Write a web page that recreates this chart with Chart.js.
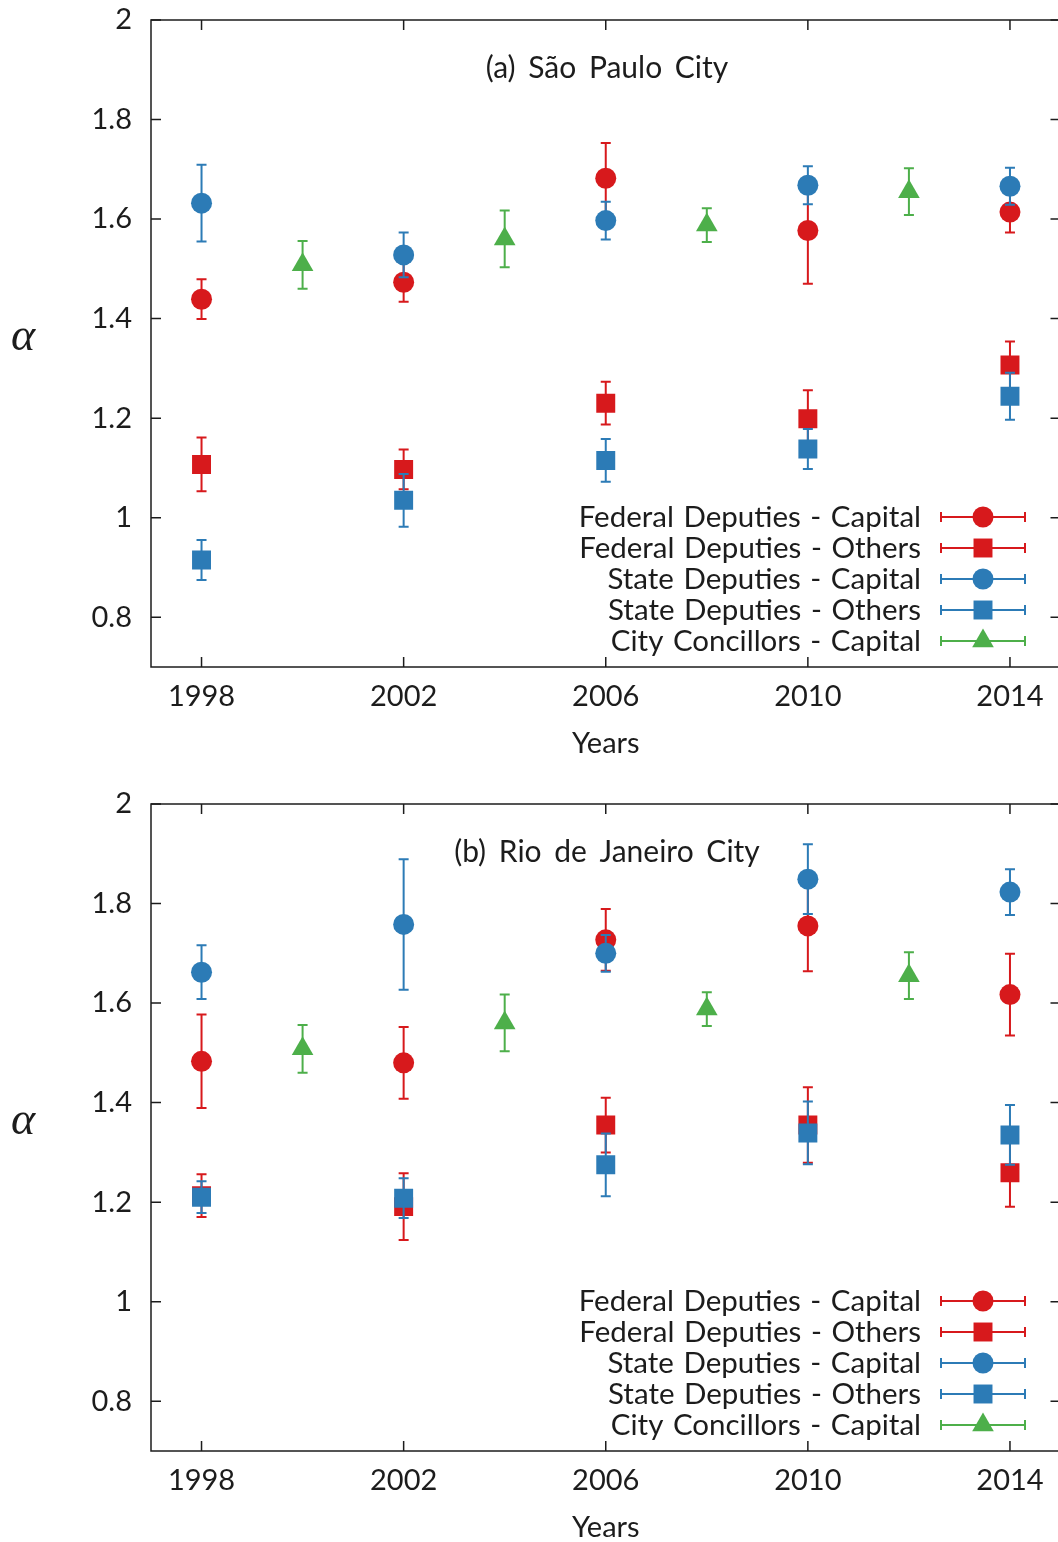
<!DOCTYPE html>
<html>
<head>
<meta charset="utf-8">
<script src="https://cdn.jsdelivr.net/npm/chart.js@4.4.0/dist/chart.umd.min.js"></script>
<style>
html, body { margin: 0; padding: 0; background: #fff; overflow: hidden; }
.panel { position: absolute; left: 0; width: 1070px; height: 784px; }
#pa { top: 0; }
#pb { top: 784px; }
</style>
</head>
<body>
<div class="panel" id="pa"><canvas id="chartA"></canvas></div>
<div class="panel" id="pb"><canvas id="chartB"></canvas></div>
<script>
// years on the x axis
const electionYears = [1998, 2002, 2006, 2010, 2014];
const cityYears = [2000, 2004, 2008, 2012];
const xTicks = [1998, 2002, 2006, 2010, 2014];
const yTicks = [0.8, 1, 1.2, 1.4, 1.6, 1.8, 2];

const seriesNames = [
    "Federal Deputies - Capital",
    "Federal Deputies - Others",
    "State Deputies - Capital",
    "State Deputies - Others",
    "City Concillors - Capital"
];

// (a) Sao Paulo
const spFedCapital = [1.439, 1.473, 1.682, 1.577, 1.614];
const spFedCapitalErr = [0.040, 0.039, 0.071, 0.107, 0.041];
const spFedOthers = [1.107, 1.097, 1.230, 1.199, 1.307];
const spFedOthersErr = [0.054, 0.040, 0.043, 0.057, 0.047];
const spStateCapital = [1.632, 1.528, 1.597, 1.668, 1.666];
const spStateCapitalErr = [0.077, 0.045, 0.038, 0.038, 0.037];
const spStateOthers = [0.915, 1.035, 1.115, 1.138, 1.244];
const spStateOthersErr = [0.040, 0.053, 0.043, 0.040, 0.047];
const spCity = [1.508, 1.560, 1.588, 1.655];
const spCityErr = [0.048, 0.057, 0.034, 0.047];

// (b) Rio de Janeiro
const rjFedCapital = [1.483, 1.480, 1.727, 1.755, 1.617];
const rjFedCapitalErr = [0.094, 0.072, 0.062, 0.091, 0.082];
const rjFedOthers = [1.213, 1.191, 1.355, 1.355, 1.259];
const rjFedOthersErr = [0.043, 0.067, 0.055, 0.076, 0.068];
const rjStateCapital = [1.662, 1.758, 1.700, 1.849, 1.823];
const rjStateCapitalErr = [0.054, 0.131, 0.037, 0.070, 0.046];
const rjStateOthers = [1.210, 1.208, 1.275, 1.339, 1.335];
const rjStateOthersErr = [0.032, 0.040, 0.063, 0.063, 0.060];
const rjCity = [1.508, 1.560, 1.588, 1.655];
const rjCityErr = [0.048, 0.057, 0.034, 0.047];

const red = "#d7191c";
const blue = "#2c7bb6";
const green = "#4daf4a";
const ink = "#1c1c1c";
const textFont = "Lato";

function points(xs, ys) {
    return xs.map((x, i) => ({ x: x, y: ys[i] }));
}

function drawMarker(ctx, style, x, y, r) {
    ctx.beginPath();
    if (style === "circle") {
        ctx.arc(x, y, r, 0, Math.PI * 2);
    } else if (style === "rect") {
        var s = r * Math.SQRT1_2;
        ctx.rect(x - s, y - s, 2 * s, 2 * s);
    } else {
        ctx.moveTo(x, y - r);
        ctx.lineTo(x + r * 0.866, y + r * 0.5);
        ctx.lineTo(x - r * 0.866, y + r * 0.5);
        ctx.closePath();
    }
    ctx.fill();
}

// vertical error bars, drawn right before each dataset's own markers
const errorBars = {
    id: "errorBars",
    beforeDatasetDraw(chart, args) {
        const ds = chart.data.datasets[args.index];
        const xs = chart.scales.x, ys = chart.scales.y;
        const ctx = chart.ctx;
        ctx.save();
        ctx.strokeStyle = ds.borderColor;
        ctx.lineWidth = 2;
        ds.data.forEach((p, i) => {
            const px = xs.getPixelForValue(p.x);
            const top = ys.getPixelForValue(p.y + ds.errors[i]);
            const bot = ys.getPixelForValue(p.y - ds.errors[i]);
            ctx.beginPath();
            ctx.moveTo(px, top); ctx.lineTo(px, bot);
            ctx.moveTo(px - 5, top); ctx.lineTo(px + 5, top);
            ctx.moveTo(px - 5, bot); ctx.lineTo(px + 5, bot);
            ctx.stroke();
        });
        ctx.restore();
    }
};

// box around plot with inward ticks on all four sides
const frame = {
    id: "frame",
    beforeDatasetsDraw(chart) {
        const a = chart.chartArea;
        const xs = chart.scales.x, ys = chart.scales.y;
        const ctx = chart.ctx;
        ctx.save();
        ctx.strokeStyle = ink;
        ctx.lineWidth = 1.5;
        ctx.strokeRect(a.left, a.top, a.right - a.left, a.bottom - a.top);
        ctx.beginPath();
        xTicks.forEach((v) => {
            const px = xs.getPixelForValue(v);
            ctx.moveTo(px, a.bottom); ctx.lineTo(px, a.bottom - 10);
            ctx.moveTo(px, a.top); ctx.lineTo(px, a.top + 10);
        });
        yTicks.forEach((v) => {
            const py = ys.getPixelForValue(v);
            ctx.moveTo(a.left, py); ctx.lineTo(a.left + 10, py);
            ctx.moveTo(a.right, py); ctx.lineTo(a.right - 10, py);
        });
        ctx.stroke();
        ctx.restore();
    }
};

// panel title, alpha label and gnuplot-like key
const decorations = {
    id: "decorations",
    afterDraw(chart) {
        const a = chart.chartArea;
        const ctx = chart.ctx;
        const opts = chart.options.plugins.decorations;
        ctx.save();
        ctx.fillStyle = ink;
        ctx.font = "30px " + textFont;
        ctx.wordSpacing = "5px";
        ctx.textAlign = "center";
        ctx.textBaseline = "middle";
        ctx.fillText(opts.title, 607, a.top + 48);

        ctx.wordSpacing = "0px";
        ctx.font = "italic 46px 'Liberation Serif'";
        ctx.fillText("\u03b1", 23, (a.top + a.bottom) / 2 - 6);

        ctx.font = "29.5px " + textFont;
        ctx.wordSpacing = "2px";
        ctx.textAlign = "right";
        chart.data.datasets.forEach((ds, i) => {
            const ry = 517 + i * 31;
            ctx.fillStyle = ink;
            ctx.fillText(ds.label, 921, ry);
            ctx.strokeStyle = ds.borderColor;
            ctx.lineWidth = 2;
            ctx.beginPath();
            ctx.moveTo(941, ry); ctx.lineTo(1025, ry);
            ctx.moveTo(941, ry - 5); ctx.lineTo(941, ry + 5);
            ctx.moveTo(1025, ry - 5); ctx.lineTo(1025, ry + 5);
            ctx.stroke();
            ctx.fillStyle = ds.backgroundColor;
            drawMarker(ctx, ds.pointStyle, 983, ry, ds.pointRadius);
        });
        ctx.restore();
    }
};

function makePanel(id, title, fc, fcE, fo, foE, sc, scE, so, soE, cc, ccE) {
    var box = document.getElementById(id);
    var sets = [
        { values: fc, err: fcE, xs: electionYears, color: red, style: "circle", r: 10.5 },
        { values: fo, err: foE, xs: electionYears, color: red, style: "rect", r: 13.4 },
        { values: sc, err: scE, xs: electionYears, color: blue, style: "circle", r: 10.5 },
        { values: so, err: soE, xs: electionYears, color: blue, style: "rect", r: 13.4 },
        { values: cc, err: ccE, xs: cityYears, color: green, style: "triangle", r: 12.5 }
    ];
    new Chart(box, {
        type: "scatter",
        data: {
            datasets: sets.map((s, i) => ({
                label: seriesNames[i],
                data: points(s.xs, s.values),
                errors: s.err,
                backgroundColor: s.color,
                borderColor: s.color,
                pointStyle: s.style,
                pointRadius: s.r,
                pointHoverRadius: s.r,
                pointBorderWidth: 0,
                order: sets.length - i
            }))
        },
        options: {
            responsive: true,
            maintainAspectRatio: false,
            animation: false,
            layout: { autoPadding: false, padding: { left: 0, top: 20, right: 9.5, bottom: 0 } },
            plugins: {
                legend: { display: false },
                tooltip: { enabled: false },
                decorations: { title: title }
            },
            scales: {
                x: {
                    type: "linear",
                    min: 1997,
                    max: 2015,
                    afterBuildTicks: (s) => { s.ticks = xTicks.map((v) => ({ value: v })); },
                    afterFit: (s) => {
                        s.height = 117;
                        s.paddingLeft = 0; s.paddingRight = 0;
                        s.paddingTop = 0; s.paddingBottom = 0;
                    },
                    grid: { display: false, drawTicks: false },
                    border: { display: false },
                    ticks: {
                        color: ink,
                        font: { family: textFont, size: 29 },
                        padding: 12,
                        maxRotation: 0,
                        callback: (v) => String(v)
                    },
                    title: {
                        display: true,
                        text: "Years",
                        color: ink,
                        font: { family: textFont, size: 29 },
                        padding: { top: 0, bottom: 23 }
                    }
                },
                y: {
                    min: 0.7,
                    max: 2.0,
                    afterBuildTicks: (s) => { s.ticks = yTicks.map((v) => ({ value: v })); },
                    afterFit: (s) => {
                        s.width = 151;
                        s.paddingLeft = 0; s.paddingRight = 0;
                        s.paddingTop = 0; s.paddingBottom = 0;
                    },
                    grid: { display: false, drawTicks: false },
                    border: { display: false },
                    ticks: {
                        color: ink,
                        font: { family: textFont, size: 29 },
                        padding: 19,
                        callback: (v) => String(+v.toFixed(1))
                    }
                }
            }
        },
        plugins: [frame, errorBars, decorations]
    });
}

makePanel("chartA", "(a) S\u00e3o Paulo City",
    spFedCapital, spFedCapitalErr, spFedOthers, spFedOthersErr,
    spStateCapital, spStateCapitalErr, spStateOthers, spStateOthersErr,
    spCity, spCityErr);

makePanel("chartB", "(b) Rio de Janeiro City",
    rjFedCapital, rjFedCapitalErr, rjFedOthers, rjFedOthersErr,
    rjStateCapital, rjStateCapitalErr, rjStateOthers, rjStateOthersErr,
    rjCity, rjCityErr);
</script>
</body>
</html>
